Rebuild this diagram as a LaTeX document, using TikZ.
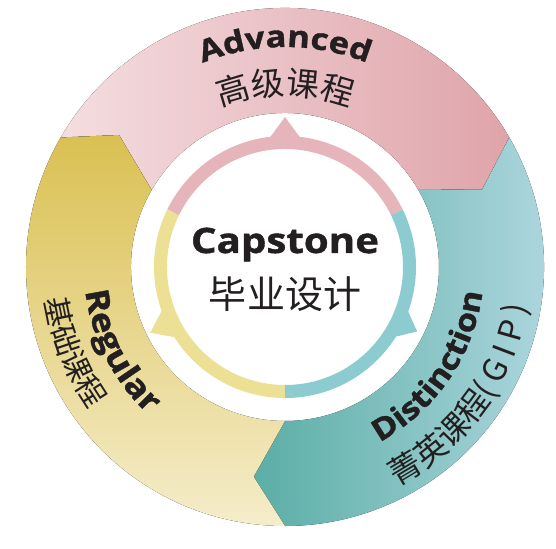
\documentclass[tikz,border=0pt]{standalone}
\usepackage{fontspec}
\setmainfont{Open Sans}
\newfontfamily\headfont{Open Sans}[FakeStretch=1.15, FakeBold=1.2]
\newfontfamily\cjk{Noto Sans CJK SC}
\usepackage{tikz}
\usetikzlibrary{decorations.text}

\definecolor{pinkL}{HTML}{F4DDE0}
\definecolor{pinkD}{HTML}{DFA4AA}
\definecolor{tealD}{HTML}{5BAEA6}
\definecolor{tealM}{HTML}{6FB9B4}
\definecolor{tealL}{HTML}{B5DAE3}
\definecolor{yelD}{HTML}{DAC052}
\definecolor{yelM}{HTML}{E8D68C}
\definecolor{yelL}{HTML}{F5EDCB}
\definecolor{ringpink}{HTML}{E5B5BB}
\definecolor{ringteal}{HTML}{8CCBD0}
\definecolor{ringyel}{HTML}{EBE094}
\definecolor{ink}{HTML}{231F20}

\tikzset{
    curvedtext/.style={decorate, decoration={text along path, text align=center, text color=ink, text={#1}}},
    thinring/.style={line width=13}
}

\begin{document}
\begin{tikzpicture}[x=1pt, y=1pt]
    \useasboundingbox (-285,-281) rectangle (271,267);
    \pgfmathsetmacro{\rout}{259}
    \pgfmathsetmacro{\rin}{154}
    \pgfmathsetmacro{\rtip}{212}
    \pgfmathsetmacro{\rring}{124.5}

    % outer chevrons
    \fill[left color=pinkL, right color=pinkD] (30:\rout) -- (21.5:\rtip) -- (30:\rin) arc[start angle=30, end angle=150, radius=\rin] -- (141.5:\rtip) -- (150:\rout) arc[start angle=150, end angle=30, radius=\rout] -- cycle;
    \fill[left color=tealD, middle color=tealM, right color=tealL] (-90:\rout) -- (-98.5:\rtip) -- (-90:\rin) arc[start angle=-90, end angle=30, radius=\rin] -- (21.5:\rtip) -- (30:\rout) arc[start angle=30, end angle=-90, radius=\rout] -- cycle;
    \fill[top color=yelD, middle color=yelM, bottom color=yelL] (150:\rout) -- (141.5:\rtip) -- (150:\rin) arc[start angle=150, end angle=270, radius=\rin] -- (261.5:\rtip) -- (270:\rout) arc[start angle=270, end angle=150, radius=\rout] -- cycle;

    % inner ring
    \draw[ringpink, thinring] (26:\rring) arc[start angle=26, end angle=154, radius=\rring];
    \draw[ringyel, thinring] (154:\rring) arc[start angle=154, end angle=270, radius=\rring];
    \draw[ringteal, thinring] (270:\rring) arc[start angle=270, end angle=386, radius=\rring];
    \fill[ringpink] (81.5:126) -- (90:150) -- (98.5:126) -- cycle;
    \fill[ringyel] (197.5:126) -- (206:150) -- (214.5:126) -- cycle;
    \fill[ringteal] (325.5:126) -- (334:147) -- (342.5:126) -- cycle;

    \node[anchor=base, text=ink, font=\headfont\bfseries\fontsize{35}{35}\selectfont] (capstone) at (0,14) {Capstone};
    \node[text=ink, font=\cjk\fontsize{38}{38}\selectfont] (capstonecn) at (0,-27.5) {毕业设计};

    % labels along the ring
    \path[curvedtext={|\headfont\bfseries\fontsize{30}{30}\selectfont|Advanced}] (130:220) arc[start angle=130, end angle=50, radius=220];
    \path[curvedtext={|\cjk\fontsize{33}{33}\selectfont|高级课程}] (130:172) arc[start angle=130, end angle=50, radius=172];
    \path[curvedtext={|\headfont\bfseries\fontsize{32}{32}\selectfont|Regular}] (170:201) arc[start angle=170, end angle=244, radius=201];
    \path[curvedtext={|\cjk\fontsize{30}{30}\selectfont|基础课程}] (170:242) arc[start angle=170, end angle=234, radius=242];
    \path[curvedtext={|\headfont\bfseries\fontsize{30}{30}\selectfont|Distinction}] (-75:199) arc[start angle=-75, end angle=6, radius=199];
    \path[curvedtext={|\cjk\fontsize{32}{32}\selectfont|菁英课程( G I P )}] (-80:246) arc[start angle=-80, end angle=8, radius=246];
\end{tikzpicture}
\end{document}
